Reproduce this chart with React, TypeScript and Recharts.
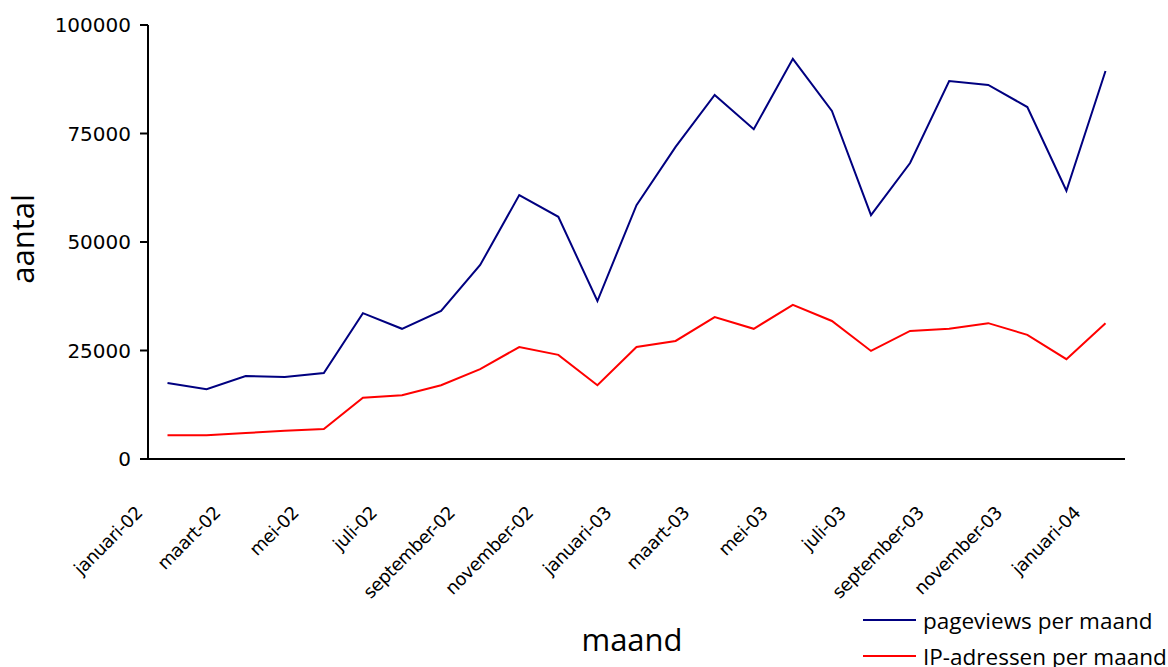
import React from 'react';
import { LineChart, Line, XAxis, YAxis } from 'recharts';

const months = [
  'januari-02', 'februari-02', 'maart-02', 'april-02', 'mei-02', 'juni-02', 'juli-02', 'augustus-02',
  'september-02', 'oktober-02', 'november-02', 'december-02',
  'januari-03', 'februari-03', 'maart-03', 'april-03', 'mei-03', 'juni-03', 'juli-03', 'augustus-03',
  'september-03', 'oktober-03', 'november-03', 'december-03',
  'januari-04',
];

const pageviews = [
  17500, 16100, 19100, 18900, 19800, 33600, 30000, 34100, 44700, 60800, 55800, 36400,
  58500, 71900, 83900, 76000, 92200, 80200, 56200, 68200, 87100, 86200, 81100, 61800,
  89400,
];

const ipAdressen = [
  5500, 5500, 6000, 6500, 6900, 14100, 14700, 17000, 20700, 25800, 24000, 17000,
  25800, 27200, 32700, 30000, 35500, 31800, 24900, 29500, 30000, 31300, 28600, 23000,
  31300,
];

const yTicks = [0, 25000, 50000, 75000, 100000];

const seriesNames = ['pageviews per maand', 'IP-adressen per maand'];
const seriesColors = ['#000080', '#ff0000'];

const data = months.map((m, i) => ({ maand: m, pageviews: pageviews[i], ip: ipAdressen[i] }));

const FONT = '"Open Sans", "DejaVu Sans", sans-serif';
const TICK_FONT = '"DejaVu Sans", sans-serif';

function MonthTick(props: any) {
  const { x, y, payload } = props;
  // y here is axis + tickSize + tickMargin
  return (
    <g transform={`translate(${x - 24},${y + 47})`}>
      <text
        transform="rotate(-45)"
        textAnchor="end"
        fontSize={18}
        fontFamily={TICK_FONT}
        letterSpacing={-0.4}
        fill="#000"
      >
        {payload.value}
      </text>
    </g>
  );
}

export default function App() {
  return (
    <div style={{ position: 'absolute', left: 0, top: 0, width: 1168, height: 667, overflow: 'hidden', background: '#fff' }}>
      <LineChart width={1168} height={667} data={data} margin={{ top: 25, right: 43, bottom: 0, left: 0 }}>
        <XAxis
          dataKey="maand"
          interval={1}
          tick={<MonthTick />}
          tickLine={false}
          axisLine={{ stroke: '#000', strokeWidth: 2 }}
          padding={{ left: 19.5, right: 19.5 }}
          height={208}
        />
        <YAxis
          domain={[0, 100000]}
          ticks={yTicks}
          width={148}
          tickLine={{ stroke: '#000', strokeWidth: 2 }}
          tickSize={8}
          axisLine={{ stroke: '#000', strokeWidth: 2 }}
          tick={{ fill: '#000', fontSize: 20, fontFamily: TICK_FONT }}
          tickMargin={9}
        />
        <Line dataKey="pageviews" name={seriesNames[0]} stroke={seriesColors[0]} strokeWidth={2} dot={false} isAnimationActive={false} />
        <Line dataKey="ip" name={seriesNames[1]} stroke={seriesColors[1]} strokeWidth={2} dot={false} isAnimationActive={false} />
      </LineChart>

      {/* legend sits at the bottom edge, second row partly cut off as in the original */}
      <div style={{ position: 'absolute', left: 863, top: 602, fontFamily: FONT, fontSize: 22.5, color: '#000' }}>
        {seriesNames.map((name, i) => (
          <div key={name} style={{ display: 'flex', alignItems: 'center', height: 36, whiteSpace: 'nowrap' }}>
            <div style={{ width: 53, height: 2, background: seriesColors[i], marginRight: 7 }} />
            <span>{name}</span>
          </div>
        ))}
      </div>

      <div
        style={{
          position: 'absolute', left: 22, top: 239, transform: 'translate(-50%, -50%) rotate(-90deg)',
          fontFamily: FONT, fontSize: 31, color: '#000', whiteSpace: 'nowrap',
        }}
      >
        aantal
      </div>
      <div
        style={{
          position: 'absolute', left: 632, top: 639, transform: 'translate(-50%, -50%)',
          fontFamily: FONT, fontSize: 31, color: '#000', whiteSpace: 'nowrap',
        }}
      >
        maand
      </div>
    </div>
  );
}
